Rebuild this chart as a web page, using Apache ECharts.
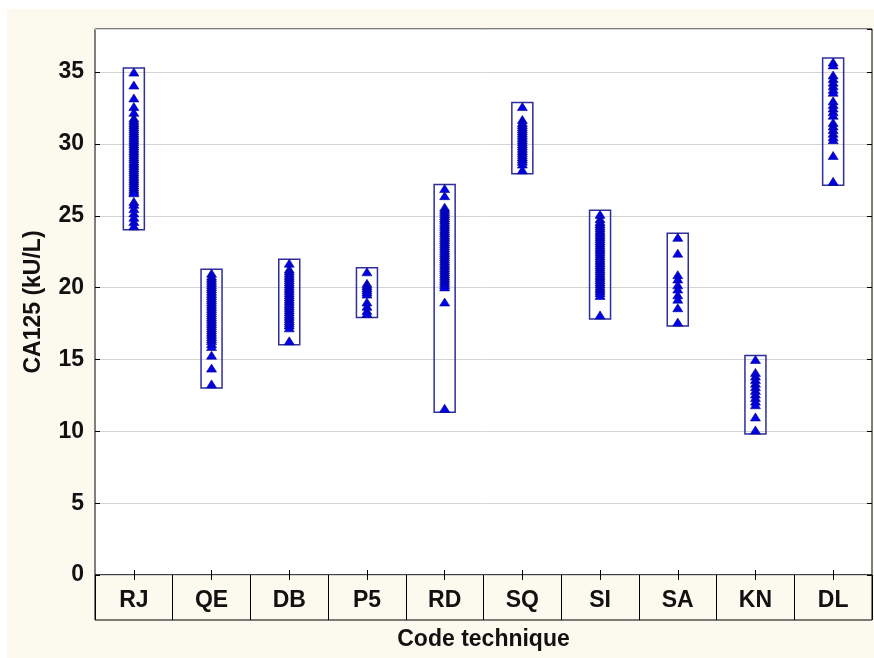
<!DOCTYPE html>
<html>
<head>
<meta charset="utf-8">
<script src="https://cdn.jsdelivr.net/npm/echarts@6/dist/echarts.min.js"></script>
<style>
  html, body { margin: 0; padding: 0; background: #fcf9ee; overflow: hidden; }
  #chart { position: absolute; left: 0; top: 0; width: 874px; height: 658px; }
  .strip { position: fixed; background: #ffffff; z-index: 5; }
</style>
</head>
<body>
<div id="chart"></div>
<div class="strip" style="left:0;top:0;width:7px;height:100%;"></div>
<div class="strip" style="left:0;top:0;width:100%;height:9px;"></div>
<script>
// Technique codes on the horizontal axis
const categories = ['RJ', 'QE', 'DB', 'P5', 'RD', 'SQ', 'SI', 'SA', 'KN', 'DL'];

// CA125 measurements (kU/L) per technique
const valuesRJ = [35.0, 34.1, 33.2, 32.6, 32.2, 31.8, 31.65, 31.5, 31.35, 31.2, 31.05, 30.9, 30.75, 30.6, 30.45, 30.3, 30.15, 30.0, 29.85, 29.7, 29.55, 29.4, 29.25, 29.1, 28.95, 28.8, 28.65, 28.5, 28.35, 28.2, 28.05, 27.9, 27.75, 27.6, 27.45, 27.3, 27.15, 27.0, 26.85, 26.7, 26.6, 26.0, 25.8, 25.5, 25.2, 24.9, 24.6, 24.3];
const valuesQE = [21.0, 20.8, 20.65, 20.5, 20.35, 20.2, 20.05, 19.9, 19.75, 19.6, 19.45, 19.3, 19.15, 19.0, 18.85, 18.7, 18.55, 18.4, 18.25, 18.1, 17.95, 17.8, 17.65, 17.5, 17.35, 17.2, 17.05, 16.9, 16.75, 16.6, 16.45, 16.3, 16.1, 15.9, 15.3, 14.4, 13.3];
const valuesDB = [21.7, 21.3, 21.15, 21.0, 20.85, 20.7, 20.55, 20.4, 20.25, 20.1, 19.95, 19.8, 19.65, 19.5, 19.35, 19.2, 19.05, 18.9, 18.75, 18.6, 18.45, 18.3, 18.15, 18.0, 17.85, 17.7, 17.55, 17.4, 17.2, 16.3];
const valuesP5 = [21.1, 20.3, 20.15, 20.0, 19.85, 19.7, 19.55, 19.0, 18.7, 18.4, 18.2];
const valuesRD = [26.9, 26.4, 25.6, 25.45, 25.3, 25.15, 25.0, 24.85, 24.7, 24.55, 24.4, 24.25, 24.1, 23.95, 23.8, 23.65, 23.5, 23.35, 23.2, 23.05, 22.9, 22.75, 22.6, 22.45, 22.3, 22.15, 22.0, 21.85, 21.7, 21.55, 21.4, 21.25, 21.1, 20.95, 20.8, 20.65, 20.5, 20.35, 20.2, 20.05, 19.0, 11.6];
const valuesSQ = [32.6, 31.7, 31.5, 31.35, 31.2, 31.05, 30.9, 30.75, 30.6, 30.45, 30.3, 30.15, 30.0, 29.85, 29.7, 29.55, 29.4, 29.25, 29.1, 28.95, 28.8, 28.6, 28.2];
const valuesSI = [25.1, 24.8, 24.6, 24.45, 24.3, 24.15, 24.0, 23.85, 23.7, 23.55, 23.4, 23.25, 23.1, 22.95, 22.8, 22.65, 22.5, 22.35, 22.2, 22.05, 21.9, 21.75, 21.6, 21.45, 21.3, 21.15, 21.0, 20.85, 20.7, 20.55, 20.4, 20.25, 20.1, 19.95, 19.8, 19.65, 19.45, 18.1];
const valuesSA = [23.5, 22.4, 20.9, 20.6, 20.2, 19.9, 19.5, 19.2, 18.6, 17.6];
const valuesKN = [15.0, 14.1, 13.85, 13.6, 13.35, 13.1, 12.85, 12.6, 12.35, 12.1, 11.85, 11.0, 10.1];
const valuesDL = [35.7, 35.5, 34.8, 34.55, 34.3, 34.05, 33.8, 33.6, 33.0, 32.75, 32.5, 32.25, 32.0, 31.5, 31.25, 31.0, 30.75, 30.5, 30.3, 29.2, 27.4];

// Y axis scale
const yMin = 0;
const yMax = 38;
const yStep = 5;

const groups = [valuesRJ, valuesQE, valuesDB, valuesP5, valuesRD, valuesSQ, valuesSI, valuesSA, valuesKN, valuesDL];

// Points as [category, value]
const points = [];
groups.forEach((vals, i) => vals.forEach(v => points.push([i, v])));

// Range of each group: [category, min, max]
const ranges = groups.map((vals, i) => [i, Math.min(...vals), Math.max(...vals)]);

const cream = '#fcf9ee';
const font = '"Liberation Sans", Arial, sans-serif';
const textStyle = { color: '#111', fontFamily: font, fontWeight: 'bold', fontSize: 23 };

const chart = echarts.init(document.getElementById('chart'), null, { renderer: 'canvas', width: 874, height: 658 });

chart.setOption({
  animation: false,
  backgroundColor: cream,
  grid: [
    { left: 95, top: 29, width: 777, height: 546, containLabel: false, outerBoundsMode: 'none', show: true, backgroundColor: '#ffffff', borderColor: '#000', borderWidth: 1, z: 0 },
    { left: 95, top: 575, width: 777, height: 45, containLabel: false, outerBoundsMode: 'none', show: true, backgroundColor: 'transparent', borderColor: '#000', borderWidth: 1 }
  ],
  xAxis: [
    {
      type: 'category', data: categories, gridIndex: 0, position: 'bottom',
      boundaryGap: true,
      axisLine: { show: false },
      axisTick: { show: true, inside: true, length: 5, alignWithLabel: true, interval: 0, lineStyle: { color: '#000' } },
      axisLabel: Object.assign({ interval: 0, margin: 26, verticalAlign: 'middle' }, textStyle),
      name: 'Code technique', nameLocation: 'middle', nameGap: 53, nameMoveOverlap: false,
      nameTextStyle: textStyle,
      splitLine: { show: false }
    },
    {
      type: 'category', data: categories, gridIndex: 0, position: 'top',
      boundaryGap: true,
      axisLine: { show: false },
      axisTick: { show: true, inside: true, length: 5, alignWithLabel: true, interval: 0, lineStyle: { color: '#000' } },
      axisLabel: { show: false },
      splitLine: { show: false }
    },
    {
      type: 'category', data: categories, gridIndex: 1,
      boundaryGap: true,
      axisLine: { show: false }, axisTick: { show: false }, axisLabel: { show: false },
      splitLine: { show: true, interval: 0, lineStyle: { color: '#000', width: 1 } }
    }
  ],
  yAxis: [
    {
      type: 'value', gridIndex: 0, min: yMin, max: yMax, interval: yStep, position: 'left',
      axisLine: { show: false },
      axisTick: { show: true, inside: true, length: 5, lineStyle: { color: '#000' } },
      axisLabel: Object.assign({ showMaxLabel: false, margin: 11 }, textStyle),
      splitLine: { show: true, lineStyle: { color: '#d4d4d4', width: 1 } },
      name: 'CA125 (kU/L)', nameLocation: 'middle', nameGap: 50, nameRotate: 90, nameMoveOverlap: false,
      nameTextStyle: textStyle
    },
    {
      type: 'value', gridIndex: 0, min: yMin, max: yMax, interval: yStep, position: 'right',
      axisLine: { show: false },
      axisTick: { show: true, inside: true, length: 5, lineStyle: { color: '#000' } },
      axisLabel: { show: false },
      splitLine: { show: false }
    },
    { type: 'value', gridIndex: 1, show: false, min: 0, max: 1 }
  ],
  series: [
    {
      type: 'custom',
      xAxisIndex: 0, yAxisIndex: 0,
      data: ranges,
      renderItem: function (params, api) {
        const top = api.coord([api.value(0), api.value(2)]);
        const bottom = api.coord([api.value(0), api.value(1)]);
        const halfW = 10.5;
        return {
          type: 'rect',
          shape: { x: top[0] - halfW, y: top[1] - 4, width: halfW * 2, height: bottom[1] - top[1] + 8 },
          style: { fill: null, stroke: '#2e2e9c', lineWidth: 1.5 }
        };
      },
      z: 2
    },
    {
      type: 'scatter',
      xAxisIndex: 0, yAxisIndex: 0,
      data: points,
      symbol: 'triangle',
      symbolSize: [10, 8],
      itemStyle: { color: '#0000e8', borderColor: '#000088', borderWidth: 0.6, opacity: 1 },
      z: 3
    }
  ]
});
</script>
</body>
</html>
